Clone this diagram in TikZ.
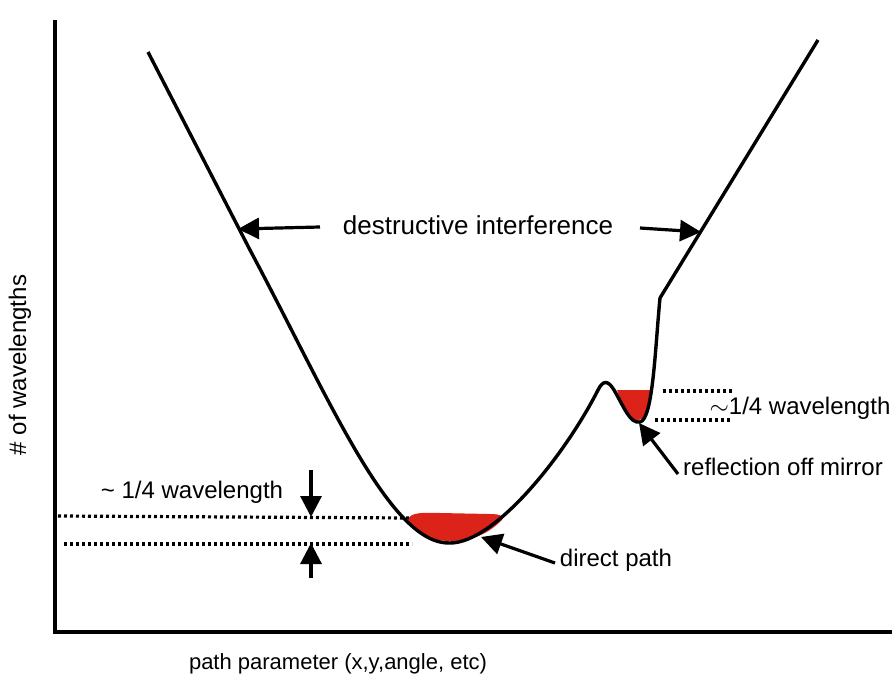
\documentclass[tikz,border=0pt]{standalone}
\usepackage{fontspec}
\setmainfont{Liberation Sans}
\usetikzlibrary{arrows.meta}

\definecolor{blobred}{RGB}{220,35,25}
\tikzset{
  thickline/.style={line width=3.4pt},
  dotline/.style={line width=3.2pt,dash pattern=on 3pt off 3pt},
  pointer/.style={line width=3.2pt,-{Triangle[length=21pt,width=21pt]}},
  lbl/.style={inner sep=0pt,font=\fontsize{24}{28}\selectfont}
}

\begin{document}
\begin{tikzpicture}[x=1pt,y=-1pt]
        \useasboundingbox (0,0) rectangle (892,680);
        % axes
        \coordinate (top) at (55,20);
        \coordinate (org) at (55,632);
        \coordinate (xend) at (892,632);
        \draw[thickline] (top) -- (org) -- (xend);
        \node[lbl,rotate=90] (ylab) at (20,365) {\# of wavelengths};
        \node[lbl,font=\fontsize{22}{26}\selectfont] (xlab) at (338,664) {path parameter (x,y,angle, etc)};
        %% red regions
        \fill[blobred] (408,522) .. controls (408,514) and (415,512) .. (440,513) -- (490,514)
          .. controls (502,514) and (504,517) .. (502,520) .. controls (488,534) and (472,541) .. (450,541)
          .. controls (430,541) and (416,533) .. (408,522);
        \fill[blobred] (617,390) -- (651,390) .. controls (650,410) .. (643,418)
          .. controls (635,422) .. (629,414) .. controls (621,402) .. (617,390);
        %% the curve
        \draw[thickline,line join=round] (148,52) -- (250,250)
          .. controls (330,400) and (390,545) .. (450,543)
          .. controls (495,543) and (565,455) .. (598,390)
          .. controls (603,380) and (608,380) .. (614,390)
          .. controls (624,407) and (630,424) .. (640,422)
          .. controls (653,419) and (655,350) .. (660,298)
          -- (818,40);
        %% dotted levels
        \draw[dotline] (58,516) -- (410,518);
        \draw[dotline] (64,544) -- (412,544);
        \draw[dotline] (663,391) -- (733,391);
        \draw[dotline] (655,420) -- (731,420);
        %% labels
        \node[lbl,font=\fontsize{26}{30}\selectfont] (destr) at (478,225) {destructive interference};
        \node[lbl] (quarterl) at (192,492) {\char`~\ 1/4 wavelength};
        \node[lbl] (quarterr) at (800,408) {$\sim$1/4 wavelength};
        \node[lbl] (mirror) at (783,467) {reflection off mirror};
        \node[lbl] (direct) at (616,560) {direct path};
        %% pointers
        \coordinate (dl0) at (320,227);
        \coordinate (dl1) at (238,229);
        \coordinate (dr0) at (640,228);
        \coordinate (dr1) at (701,232);
        \draw[pointer] (dl0) -- (dl1);
        \draw[pointer] (dr0) -- (dr1);
        \coordinate (qd0) at (311,470);
        \coordinate (qd1) at (311,517);
        \coordinate (qu0) at (311,578);
        \coordinate (qu1) at (311,543);
        \draw[pointer] (qd0) -- (qd1);
        \draw[pointer] (qu0) -- (qu1);
        \coordinate (mp0) at (678,474);
        \coordinate (mp1) at (639,423);
        \draw[pointer] (mp0) -- (mp1);
        \coordinate (dp0) at (555,563);
        \coordinate (dp1) at (481,537);
        \draw[pointer] (dp0) -- (dp1);
      \end{tikzpicture}
\end{document}
